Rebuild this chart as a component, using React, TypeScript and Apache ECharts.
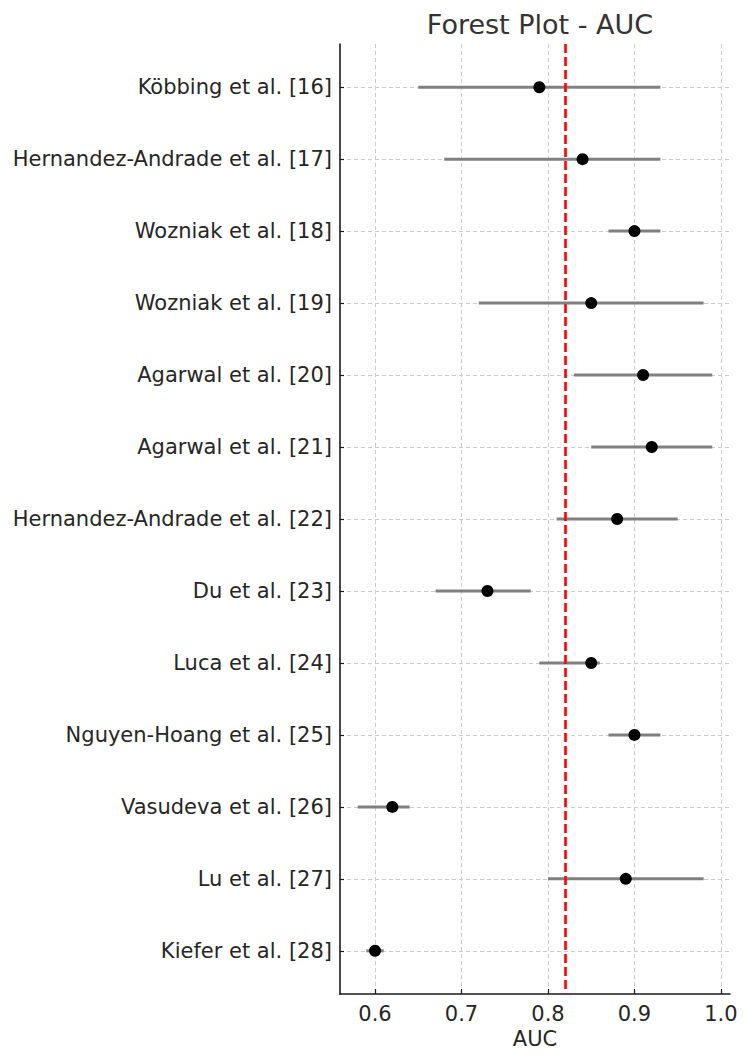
import React, { useEffect, useRef } from "react";
import * as echarts from "echarts";

// Studies listed top to bottom
const studies: string[] = [
  "Köbbing et al. [16]",
  "Hernandez-Andrade et al. [17]",
  "Wozniak et al. [18]",
  "Wozniak et al. [19]",
  "Agarwal et al. [20]",
  "Agarwal et al. [21]",
  "Hernandez-Andrade et al. [22]",
  "Du et al. [23]",
  "Luca et al. [24]",
  "Nguyen-Hoang et al. [25]",
  "Vasudeva et al. [26]",
  "Lu et al. [27]",
  "Kiefer et al. [28]",
];

// Point estimates and confidence interval bounds
const auc: number[] = [0.79, 0.84, 0.9, 0.85, 0.91, 0.92, 0.88, 0.73, 0.85, 0.9, 0.62, 0.89, 0.6];
const ciLower: number[] = [0.65, 0.68, 0.87, 0.72, 0.83, 0.85, 0.81, 0.67, 0.79, 0.87, 0.58, 0.8, 0.59];
const ciUpper: number[] = [0.93, 0.93, 0.93, 0.98, 0.99, 0.99, 0.95, 0.78, 0.86, 0.93, 0.64, 0.98, 0.61];

const xTicks: number[] = [0.6, 0.7, 0.8, 0.9, 1.0];

const FONT = "DejaVu Sans";
const TEXT = "#262626";
const AXIS = "#1a1a1a";

export default function App() {
  const ref = useRef<HTMLDivElement>(null);

  useEffect(() => {
    if (!ref.current) return;
    const chart = echarts.init(ref.current, null, { renderer: "svg" });

    const rows = studies.map((_, i) => i);
    const meanAuc = auc.reduce((s, v) => s + v, 0) / auc.length;

    // matplotlib-style 5% margins around the data range
    const lo = Math.min(...ciLower);
    const hi = Math.max(...ciUpper);
    const pad = (hi - lo) * 0.05;
    const yPad = (studies.length - 1) * 0.05;

    const intervals = rows.map((i) => [ciLower[i], ciUpper[i], i]);
    const points = rows.map((i) => [auc[i], i]);

    chart.setOption({
      animation: false,
      title: {
        text: "Forest Plot - AUC",
        left: 535,
        top: 6,
        textAlign: "center",
        textStyle: { fontFamily: FONT, fontSize: 27, fontWeight: "normal", color: "#333333" },
      },
      grid: { left: 340, right: 20, top: 44, bottom: 68, containLabel: false },
      xAxis: {
        type: "value",
        min: lo - pad,
        max: hi + pad,
        name: "AUC",
        nameLocation: "middle",
        nameGap: 32,
        nameTextStyle: { fontFamily: FONT, fontSize: 21, color: TEXT },
        axisLine: { show: true, onZero: false, lineStyle: { color: AXIS, width: 1.6 } },
        axisTick: { show: true, inside: true, length: 5, customValues: xTicks, lineStyle: { color: AXIS, width: 1.2 } },
        axisLabel: {
          customValues: xTicks,
          margin: 9,
          fontFamily: FONT,
          fontSize: 21,
          color: TEXT,
          formatter: (v: number) => v.toFixed(1),
        },
        splitLine: { show: true, lineStyle: { color: "#cccccc", width: 1, type: [4, 3] } },
      },
      yAxis: {
        type: "value",
        inverse: true,
        min: -yPad,
        max: studies.length - 1 + yPad,
        axisLine: { show: true, onZero: false, lineStyle: { color: AXIS, width: 1.6 } },
        axisTick: { show: true, inside: true, length: 4, customValues: rows, lineStyle: { color: AXIS, width: 1.2 } },
        axisLabel: {
          customValues: rows,
          margin: 8,
          fontFamily: FONT,
          fontSize: 21,
          color: TEXT,
          formatter: (v: number) => studies[Math.round(v)] ?? "",
        },
        splitLine: { show: true, lineStyle: { color: "#cccccc", width: 1, type: [4, 3] } },
      },
      series: [
        {
          type: "custom",
          name: "CI",
          data: intervals,
          encode: { x: [0, 1], y: 2 },
          renderItem: (_params: any, api: any) => {
            const a = api.coord([api.value(0), api.value(2)]);
            const b = api.coord([api.value(1), api.value(2)]);
            return {
              type: "line",
              shape: { x1: a[0], y1: a[1], x2: b[0], y2: b[1] },
              style: { stroke: "#808080", lineWidth: 3 },
            };
          },
          z: 2,
        },
        {
          type: "scatter",
          name: "AUC",
          data: points,
          symbol: "circle",
          symbolSize: 12,
          itemStyle: { color: "#000000", opacity: 1 },
          z: 4,
          markLine: {
            silent: true,
            symbol: "none",
            label: { show: false },
            lineStyle: { color: "#ff0000", width: 2.6, type: [9, 4], opacity: 1 },
            data: [{ xAxis: meanAuc }],
          },
        },
      ],
    });

    return () => chart.dispose();
  }, []);

  return (
    <div
      ref={ref}
      style={{ position: "fixed", left: 0, top: 0, width: 750, height: 1062, background: "#ffffff" }}
    />
  );
}
